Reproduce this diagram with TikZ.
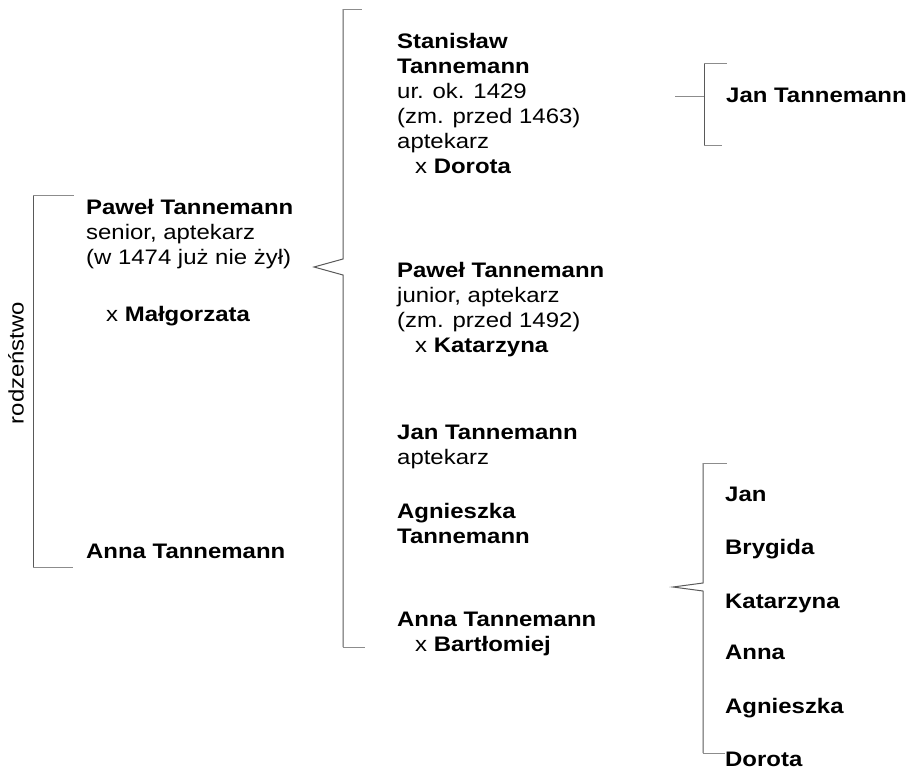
\documentclass[tikz,border=0pt]{standalone}
\usepackage{fontspec}
\setmainfont[FakeStretch=1.14]{Liberation Sans}
\newcommand{\plines}[1]{\begin{tabular}[t]{@{}l@{}}#1\end{tabular}}
\tikzset{
  person/.style={anchor=base west, inner sep=0pt, font=\fontsize{21}{25}\selectfont},
  brack/.style={draw=black!65, line width=1pt},
  tickline/.style={draw=black!45, line width=1pt}
}
\begin{document}
\begin{tikzpicture}[x=1pt,y=-1pt]
\useasboundingbox (0,0) rectangle (911,769);
% left bracket
\draw[brack] (33,195) -- (33,567);
\draw[tickline] (33,195) -- (74,195);
\draw[tickline] (33,567) -- (73,567);
\node[rotate=90, inner sep=0pt, font=\fontsize{21}{25}\selectfont] (rodz) at (16,363) {rodzeństwo};
% left column
\node[person] (pawelsen) at (86,214) {\plines{\textbf{Paweł Tannemann}\\senior, aptekarz\\(w 1474 już nie żył)}};
\node[person] (malg) at (106,321) {x \textbf{Małgorzata}};
\node[person] (annasis) at (86,558) {\textbf{Anna Tannemann}};
% middle brace
\coordinate (mtop) at (343,9);
\coordinate (mtip) at (314,267);
\coordinate (mbot) at (343,647);
\draw[brack] (mtop) -- (343,259) -- (mtip) -- (343,275) -- (mbot);
\draw[tickline] (mtop) -- (362,9);
\draw[tickline] (mbot) -- (365,647);
% middle column
\node[person] (stan) at (397,48) {\plines{\textbf{Stanisław}\\\textbf{Tannemann}\\ur. ok. 1429\\(zm. przed 1463)\\aptekarz\\\hspace*{18pt}x \textbf{Dorota}}};
\node[person] (paweljun) at (397,277) {\plines{\textbf{Paweł Tannemann}\\junior, aptekarz\\(zm. przed 1492)\\\hspace*{18pt}x \textbf{Katarzyna}}};
\node[person] (jan) at (397,439) {\plines{\textbf{Jan Tannemann}\\aptekarz}};
\node[person] (agn) at (397,518) {\plines{\textbf{Agnieszka}\\\textbf{Tannemann}}};
\node[person] (anna) at (397,626) {\plines{\textbf{Anna Tannemann}\\\hspace*{18pt}x \textbf{Bartłomiej}}};
% right top bracket
\draw[brack] (704,63) -- (704,145);
\draw[tickline] (704,63) -- (727,63);
\draw[tickline] (704,145) -- (722,145);
\draw[tickline] (675,96) -- (704,96);
\node[person] (jan2) at (726,102) {\textbf{Jan Tannemann}};
% right bottom brace
\draw[brack] (703,463) -- (703,583) -- (673,587) -- (703,591) -- (703,753);
\draw[tickline] (703,463) -- (727,463);
\draw[tickline] (703,753) -- (725,753);
\node[person] (c1) at (725,501) {\textbf{Jan}};
\node[person] (c2) at (725,554) {\textbf{Brygida}};
\node[person] (c3) at (725,608) {\textbf{Katarzyna}};
\node[person] (c4) at (725,659) {\textbf{Anna}};
\node[person] (c5) at (725,713) {\textbf{Agnieszka}};
\node[person] (c6) at (725,766) {\textbf{Dorota}};
\end{tikzpicture}
\end{document}
